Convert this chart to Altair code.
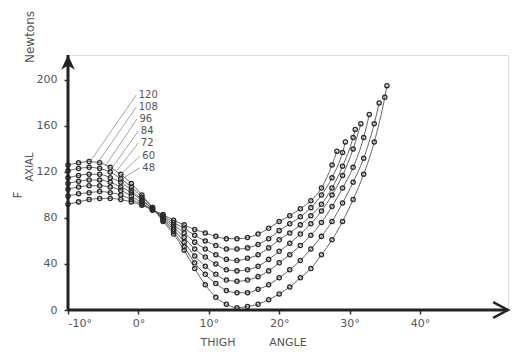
import altair as alt
import pandas as pd

# ---- data ----
ANGLES = [-10, -8.5, -7, -5.5, -4, -2.5, -1, 0.5, 2, 3.5, 5, 6.5, 8, 9.5, 11,
          12.5, 14, 15.5, 17, 18.5, 20, 21.5, 23, 24.5, 26, 27.5, 29, 30.5,
          32, 33.5, 35]

CURVE_LABELS = ["48", "60", "72", "84", "96", "108", "120"]

F_48 = [92, 94, 96, 97, 97, 96, 94, 91, 87, 83, 78, 74, 70, 67, 64, 62, 62, 63,
        66, 71, 77, 82, 88, 95, 106, 126]
F_60 = [99, 101, 102, 103, 102, 100, 96, 92, 87, 82, 76, 71, 65, 60, 56, 53, 53,
        54, 57, 62, 69, 75, 81, 89, 100, 115, 137]
F_72 = [105, 107, 108, 108, 107, 104, 99, 93, 87, 81, 74, 67, 59, 53, 48, 44, 43,
        45, 48, 54, 61, 67, 74, 82, 92, 106, 125, 150]
F_84 = [110, 112, 113, 113, 111, 107, 102, 95, 88, 80, 72, 63, 53, 46, 40, 35, 34,
        35, 38, 44, 51, 58, 66, 75, 86, 100, 117, 140]
F_96 = [115, 117, 118, 118, 115, 111, 104, 96, 88, 79, 70, 59, 47, 38, 31, 26, 25,
        26, 29, 34, 41, 48, 56, 65, 76, 90, 106, 124, 150]
F_108 = [121, 123, 124, 123, 120, 114, 107, 98, 89, 78, 68, 55, 41, 31, 23, 17, 15,
         15, 18, 22, 28, 35, 43, 53, 64, 77, 93, 111, 132, 162]
F_120 = [126, 128, 129, 128, 124, 118, 110, 100, 89, 77, 66, 52, 36, 22, 11, 5, 2,
         3, 5, 9, 14, 20, 28, 36, 48, 61, 77, 96, 118, 146, 185]

END_ANGLE = [28.2, 29.4, 30.8, 31.6, 32.8, 34.2, 35.3]
END_VALUE = [138, 146, 157, 162, 170, 180, 195]

# label leader lines: label anchor (angle, N) -> point on curve (angle, N)
LABEL_ANGLE = [0.2, 0.2, 0.0, 0.0, -0.2, -0.3, -0.3]
LABEL_VALUE = [123.5, 133.9, 145.2, 155.7, 166.1, 176.5, 187.0]
LEADER_ANGLE = [-1.9, -2.3, -3.0, -3.75, -4.7, -5.9, -6.9]
LEADER_VALUE = [115.7, 119.1, 121.7, 123.5, 125.2, 127.0, 128.7]

X_TICKS = [-10, 0, 10, 20, 30, 40]
Y_TICKS = [0, 40, 80, 120, 160, 200]
X_MIN, X_MAX = -10, 52.5
Y_MIN, Y_MAX = 0, 221.7

series = [F_48, F_60, F_72, F_84, F_96, F_108, F_120]
rows = []
for lab, vals, ea, ev in zip(CURVE_LABELS, series, END_ANGLE, END_VALUE):
    for i, v in enumerate(vals):
        rows.append({"curve": lab, "angle": ANGLES[i], "force": v, "o": i})
    rows.append({"curve": lab, "angle": ea, "force": ev, "o": len(vals)})
df = pd.DataFrame(rows)

ann = pd.DataFrame({
    "label": CURVE_LABELS,
    "la": LABEL_ANGLE, "lv": LABEL_VALUE,
    "ca": LEADER_ANGLE, "cv": LEADER_VALUE,
})
ann["ta"] = ann["la"] + 0.35

W, H = 440, 255
FONT = "DejaVu Sans"
GRAY = "#555555"
DARK = "#222222"

xs = alt.Scale(domain=[X_MIN, X_MAX], nice=False, zero=False)
ys = alt.Scale(domain=[Y_MIN, Y_MAX], nice=False)

x_axis = alt.Axis(values=X_TICKS, labelExpr="datum.value + '°'", domain=False,
                  grid=False, title=None, tickSize=4, tickWidth=1.5,
                  tickColor="#333", labelColor=GRAY, labelFontSize=11,
                  labelFont=FONT, labelPadding=3)
y_axis = alt.Axis(values=Y_TICKS, domain=False, grid=False, title=None,
                  tickSize=4, tickWidth=1.5, tickColor="#333",
                  labelColor=GRAY, labelFontSize=11, labelFont=FONT,
                  labelPadding=7)

base = alt.Chart(df)
lines = base.mark_line(color="#555", strokeWidth=0.9, interpolate="monotone").encode(
    x=alt.X("angle:Q", scale=xs, axis=x_axis),
    y=alt.Y("force:Q", scale=ys, axis=y_axis),
    detail="curve:N",
    order="o:Q",
)
pts = base.mark_point(shape="circle", size=18, filled=False, color="#2a2a2a",
                      strokeWidth=1.3, opacity=1).encode(
    x=alt.X("angle:Q", scale=xs), y=alt.Y("force:Q", scale=ys))

lead = alt.Chart(ann).mark_rule(color="#666", strokeWidth=0.6).encode(
    x=alt.X("la:Q", scale=xs), y=alt.Y("lv:Q", scale=ys),
    x2="ca:Q", y2="cv:Q")
labs = alt.Chart(ann).mark_text(align="left", baseline="middle", fontSize=10,
                                font=FONT, color=GRAY).encode(
    x=alt.X("ta:Q", scale=xs), y=alt.Y("lv:Q", scale=ys), text="label:N")

axes_df = pd.DataFrame({"x1": [X_MIN, X_MIN], "y1": [Y_MIN, Y_MIN],
                        "x2": [X_MIN, X_MAX], "y2": [Y_MAX, Y_MIN]})
axlines = alt.Chart(axes_df).mark_rule(color=DARK, strokeWidth=3).encode(
    x=alt.X("x1:Q", scale=xs), y=alt.Y("y1:Q", scale=ys), x2="x2:Q", y2="y2:Q")

up_arrow = alt.Chart(pd.DataFrame({"a": [X_MIN], "v": [Y_MAX]})).mark_point(
    shape="M0,0 L1.25,2.7 L0,1.9 L-1.25,2.7 Z", size=121, filled=True,
    color=DARK, opacity=1).encode(x=alt.X("a:Q", scale=xs), y=alt.Y("v:Q", scale=ys))
right_arrow = alt.Chart(pd.DataFrame({"a": [X_MAX], "v": [Y_MIN]})).mark_point(
    shape="M-2.7,-1.45 L0,0 L-2.7,1.45", size=121, filled=False, strokeWidth=2.5,
    color=DARK, opacity=1).encode(x=alt.X("a:Q", scale=xs), y=alt.Y("v:Q", scale=ys))

def ptext(txt, x, y, size, angle=0):
    return alt.Chart(pd.DataFrame({"t": [txt]})).mark_text(
        fontSize=size, font=FONT, color=GRAY, angle=angle,
        align="center", baseline="middle").encode(
        x=alt.value(x), y=alt.value(y), text="t:N")

titles = (ptext("Newtons", -38, -18, 12, 270)
          + ptext("F", -50, 140, 12, 270)
          + ptext("AXIAL", -38, 112, 10, 270)
          + ptext("THIGH", 150, 288, 11)
          + ptext("ANGLE", 220, 288, 11))

chart = alt.layer(lines, pts, lead, labs, axlines, up_arrow, right_arrow, titles).properties(
    width=W, height=H,
    padding={"left": 68, "top": 55, "right": 7, "bottom": 43},
    autosize=alt.AutoSizeParams(type="none"),
).configure_view(stroke=None).configure(background="white")

chart.save("out.html", embed_options={"renderer": "svg", "actions": False})
